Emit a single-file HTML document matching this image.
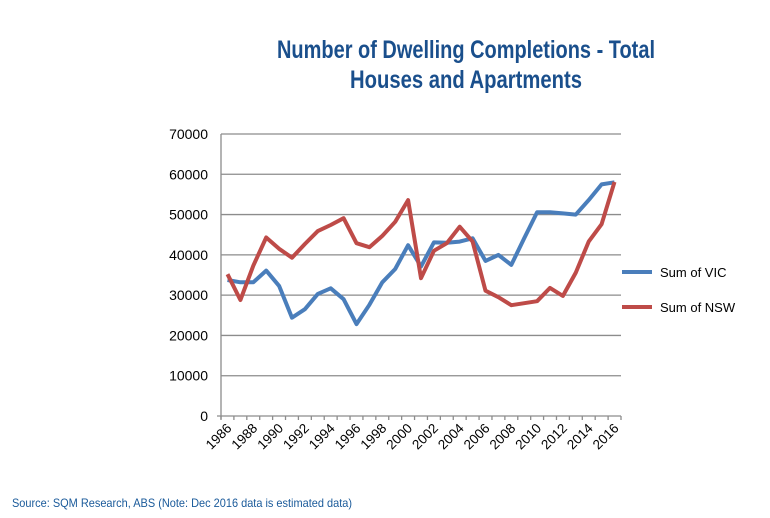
<!DOCTYPE html>
<html><head><meta charset="utf-8"><style>
body{margin:0;background:#fff;width:770px;height:518px;overflow:hidden}
svg{display:block}
</style></head><body>
<svg id="s" width="770" height="518" xmlns="http://www.w3.org/2000/svg">
<text x="277" y="58" textLength="378" lengthAdjust="spacingAndGlyphs" font-family="'Liberation Sans',sans-serif" font-weight="bold" font-size="25" fill="#1a4f8c">Number of Dwelling Completions - Total</text>
<text x="350" y="88" textLength="232" lengthAdjust="spacingAndGlyphs" font-family="'Liberation Sans',sans-serif" font-weight="bold" font-size="25" fill="#1a4f8c">Houses and Apartments</text>
<g id="grid"></g>
<g id="lines"></g>
<line x1="622" y1="272" x2="652" y2="272" stroke="#4a7ebb" stroke-width="4"/>
<text x="660" y="277" font-family="'Liberation Sans',sans-serif" font-size="13" fill="#000">Sum of VIC</text>
<line x1="622" y1="307" x2="652" y2="307" stroke="#be4b48" stroke-width="4"/>
<text x="660" y="312" font-family="'Liberation Sans',sans-serif" font-size="13" fill="#000">Sum of NSW</text>
<text x="12" y="507" textLength="340" lengthAdjust="spacingAndGlyphs" font-family="'Liberation Sans',sans-serif" font-size="12" fill="#1a5a9a">Source: SQM Research, ABS (Note: Dec 2016 data is estimated data)</text>
</svg>
<script>
var NS="http://www.w3.org/2000/svg";
function el(p,t,a,txt){var e=document.createElementNS(NS,t);for(var k in a)e.setAttribute(k,a[k]);if(txt!=null)e.textContent=txt;p.appendChild(e);return e;}
var g=document.getElementById('grid'),L=document.getElementById('lines');
var x0=221,x1=621,yb=416,yt=134,h=yb-yt;
for(var i=0;i<=7;i++){var y=yb-i*h/7;
 if(i>0)el(g,'line',{x1:x0,y1:y,x2:x1,y2:y,stroke:'#8c8c8c','stroke-width':1.3});
 el(g,'text',{x:208,y:y+5,'text-anchor':'end','font-family':"'Liberation Sans',sans-serif",'font-size':14},String(i*10000));}
el(g,'line',{x1:x0,y1:yt,x2:x0,y2:yb+3,stroke:'#8c8c8c','stroke-width':1.3});
el(g,'line',{x1:x0-4,y1:yb,x2:x1,y2:yb,stroke:'#8c8c8c','stroke-width':1.3});
var w=(x1-x0)/31;
for(var i=0;i<=31;i++){var x=x0+i*w;el(g,'line',{x1:x,y1:yb,x2:x,y2:yb+4,stroke:'#8c8c8c','stroke-width':1.3});}
for(var i=0;i<31;i+=2){var x=x0+w/2+i*w+5,y=yb+13;
 el(g,'text',{x:x,y:y,'text-anchor':'end','font-family':"'Liberation Sans',sans-serif",'font-size':13.5,transform:'rotate(-45 '+x+' '+y+')'},String(1986+i));}
var vic=[33760,33200,33200,36100,32300,24400,26500,30300,31700,29000,22800,27600,33200,36500,42400,37100,43100,43000,43300,44100,38500,40000,37500,44100,50600,50600,50300,50000,53600,57500,58000];
var nsw=[35200,28800,37300,44300,41500,39300,42700,45900,47400,49100,42900,41900,44700,48200,53600,34200,41000,42900,47000,43300,31100,29500,27500,28000,28500,31800,29800,35600,43300,47600,58100];
function pts(a){return a.map(function(v,i){return (x0+w/2+i*w).toFixed(1)+','+(yb-v*h/70000).toFixed(1)}).join(' ');}
el(L,'polyline',{points:pts(vic),fill:'none',stroke:'#4a7ebb','stroke-width':4,'stroke-linejoin':'round'});
el(L,'polyline',{points:pts(nsw),fill:'none',stroke:'#be4b48','stroke-width':4,'stroke-linejoin':'round'});
</script>
</body></html>
